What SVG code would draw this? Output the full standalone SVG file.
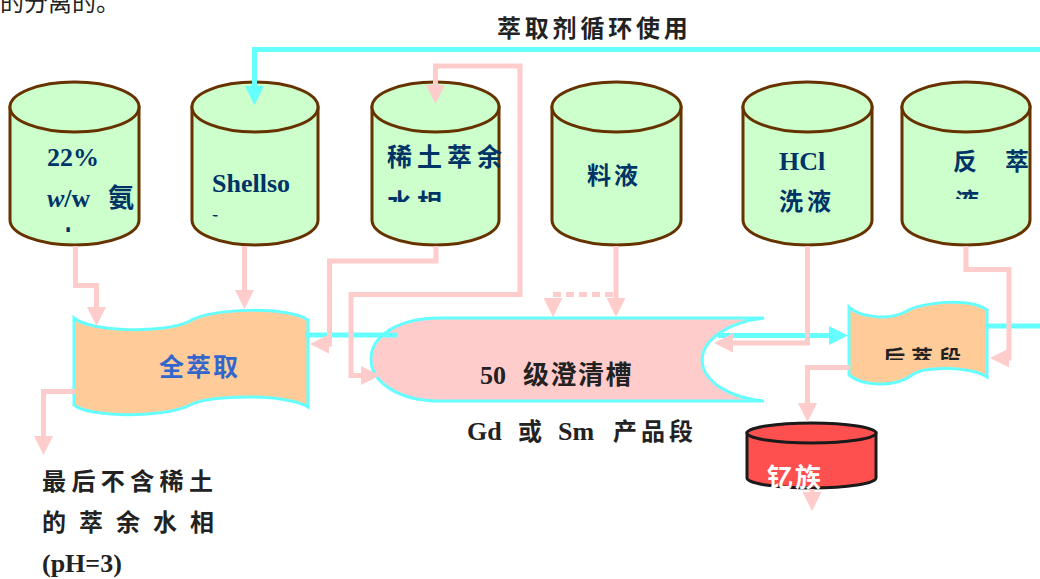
<svg xmlns="http://www.w3.org/2000/svg" width="1040" height="579" viewBox="0 0 1040 579">
<style>
.cyl{fill:#CCFFCC;stroke:#663300;stroke-width:3}
.red{fill:#FF5050;stroke:#1a1a1a;stroke-width:3}
.ct{font-family:"Noto Sans CJK SC",sans-serif;font-weight:bold;font-size:24px;fill:#003366}
.lt{font-family:"Liberation Serif",serif;font-weight:bold;font-size:26px;fill:#003366}
.bk{font-family:"Noto Sans CJK SC",sans-serif;font-weight:bold;font-size:24px;fill:#222}
.bl{font-family:"Liberation Serif",serif;font-weight:bold;font-size:26px;fill:#222}
.pk{fill:none;stroke:#FFCCCC;stroke-width:5}
.cy{fill:none;stroke:#66FFFF;stroke-width:5}
.shape{stroke:#66FFFF;stroke-width:3}
</style>
<defs>
<marker id="ap" markerUnits="userSpaceOnUse" markerWidth="20" markerHeight="20" refX="1" refY="10" orient="auto"><path d="M0,0.5 L19,10 L0,19.5 Z" fill="#FFCCCC"/></marker>
<marker id="aps" markerUnits="userSpaceOnUse" markerWidth="20" markerHeight="20" refX="1" refY="10" orient="auto-start-reverse"><path d="M0,0.5 L19,10 L0,19.5 Z" fill="#FFCCCC"/></marker>
<marker id="ac" markerUnits="userSpaceOnUse" markerWidth="20" markerHeight="20" refX="1" refY="10" orient="auto"><path d="M0,0.5 L19,10 L0,19.5 Z" fill="#66FFFF"/></marker>
<clipPath id="k1"><rect x="10" y="130" width="129" height="102"/></clipPath>
<clipPath id="k2"><rect x="192" y="130" width="126" height="86.5"/></clipPath>
<clipPath id="k3"><rect x="372" y="130" width="140" height="72"/></clipPath>
<clipPath id="k6"><rect x="902" y="130" width="127" height="69"/></clipPath>
<clipPath id="kh"><rect x="850" y="330" width="137" height="30"/></clipPath>
</defs>

<text x="0" y="11" style="font-family:'Noto Sans CJK SC',sans-serif;font-size:24px;fill:#222">的分离的。</text>
<text x="497" y="37" class="bk" style="letter-spacing:3.8px">萃取剂循环使用</text>

<g id="tank-ammonia">
<path class="cyl" d="M10,107 V220 A64.5,25 0 0 0 139,220 V107 Z"/>
<ellipse class="cyl" cx="74.5" cy="107" rx="64.5" ry="25"/>
<g clip-path="url(#k1)">
<text x="47" y="166" class="lt">22%</text>
<text x="47" y="207" class="lt"><tspan font-style="italic">w</tspan>/w</text>
<text x="108" y="207" class="ct" style="font-size:26px">氨</text>
<text x="55" y="250" class="ct" style="font-size:26px">水</text>
</g>
</g>

<g id="tank-shellsol">
<path class="cyl" d="M192,107 V220 A63,25 0 0 0 318,220 V107 Z"/>
<ellipse class="cyl" cx="255" cy="107" rx="63" ry="25"/>
<g clip-path="url(#k2)">
<text x="212" y="192" class="lt">Shellso</text>
<text x="212" y="233" class="lt">l</text>
</g>
</g>

<g id="tank-raffinate">
<path class="cyl" d="M372,107 V220 A63.5,25 0 0 0 499,220 V107 Z"/>
<ellipse class="cyl" cx="435.5" cy="107" rx="63.5" ry="25"/>
<g clip-path="url(#k3)">
<text x="387" y="166" class="ct" style="font-size:25px;letter-spacing:5px">稀土萃余</text>
<text x="387" y="212" class="ct" style="font-size:25px;letter-spacing:5px">水相</text>
</g>
</g>

<g id="tank-feed">
<path class="cyl" d="M552,107 V220 A64.5,25 0 0 0 681,220 V107 Z"/>
<ellipse class="cyl" cx="616.5" cy="107" rx="64.5" ry="25"/>
<text x="587" y="184" class="ct" style="letter-spacing:3px">料液</text>
</g>

<g id="tank-hcl">
<path class="cyl" d="M743,107 V220 A64.5,25 0 0 0 872,220 V107 Z"/>
<ellipse class="cyl" cx="807.5" cy="107" rx="64.5" ry="25"/>
<text x="779" y="170" class="lt">HCl</text>
<text x="779" y="210" class="ct" style="letter-spacing:4px">洗液</text>
</g>

<g id="tank-strip">
<path class="cyl" d="M902,107 V220 A64,25 0 0 0 1030,220 V107 Z"/>
<ellipse class="cyl" cx="966" cy="107" rx="64" ry="25"/>
<g clip-path="url(#k6)">
<text y="170" class="ct"><tspan x="953">反</tspan><tspan x="1005">萃</tspan></text>
<text x="955" y="210" class="ct">液</text>
</g>
</g>

<g id="full-extraction">
<path class="shape" fill="#FFCC99" d="M74,318 C90,332 165,334 190,321 C210,308 290,306 308,320 V407 C290,394 210,394 190,405 C165,418 90,418 74,405 Z"/>
<text x="159" y="376" class="ct" style="fill:#3366CC;font-size:25px;letter-spacing:2px">全萃取</text>
</g>

<g id="settler-50">
<path class="shape" fill="#FFCCCC" d="M440,318 H764 C730,322 703,338 702,360 C703,382 730,398 764,401 H440 C398,401 371,382 371,359 C371,336 398,318 440,318 Z"/>
<text y="384" class="bl"><tspan x="480">50</tspan><tspan x="523" style="font-family:'Noto Sans CJK SC',sans-serif;letter-spacing:1.5px">级澄清槽</tspan></text>
</g>

<g id="back-extraction">
<path class="shape" fill="#FFCC99" d="M849,307 C860,318 890,320 905,312 C920,302 970,297 987,310 V377 C972,367 925,365 912,375 C895,388 862,386 849,375 Z"/>
<g clip-path="url(#kh)">
<text x="883" y="366" class="bk" style="font-size:22px;letter-spacing:6px">后萃段</text>
</g>
</g>

<g id="yttrium">
<path class="red" d="M747,433 V478 A64.5,10 0 0 0 876,478 V433 Z"/>
<ellipse class="red" cx="811.5" cy="433" rx="64.5" ry="10"/>
</g>

<g id="connectors">
<path class="cy" d="M1040,49.5 H254.5 V87" marker-end="url(#ac)"/>
<path class="cy" d="M305,335 H397"/>
<path class="cy" d="M718,335.5 H830" marker-end="url(#ac)"/>
<path class="cy" d="M985,326 H1040"/>
<path class="pk" d="M75.5,246 V285.5 H96.5 V308" marker-end="url(#ap)"/>
<path class="pk" d="M244.5,246 V291" marker-end="url(#ap)"/>
<path class="pk" d="M436,246 V261 H329.5 V344 H328" marker-end="url(#ap)"/>
<path class="pk" d="M435.5,86 V66 H520 V294.5 H351 V375.5 H362" marker-start="url(#aps)" marker-end="url(#ap)"/>
<path class="pk" d="M616,246 V299" marker-end="url(#ap)"/>
<path class="pk" d="M613,294.5 H553 V299" style="stroke-dasharray:8,5" marker-end="url(#ap)"/>
<path class="pk" d="M807.5,246 V343 H732" marker-end="url(#ap)"/>
<path class="pk" d="M966,246 V269.5 H1009 V358 H1008" marker-end="url(#ap)"/>
<path class="pk" d="M850,367.5 H807.5 V404" marker-end="url(#ap)"/>
<path class="pk" d="M75,391.5 H43.5 V437" marker-end="url(#ap)"/>
<path class="pk" d="M812,489 V493" marker-end="url(#ap)"/>
</g>

<text x="767" y="487" class="bk" style="fill:#fff;font-size:26px;letter-spacing:2px">钇族</text>
<text x="467" y="440" class="bl"><tspan>Gd</tspan><tspan x="518" style="font-family:'Noto Sans CJK SC',sans-serif;font-size:24px">或</tspan><tspan x="558">Sm</tspan><tspan x="613" style="font-family:'Noto Sans CJK SC',sans-serif;font-size:24px;letter-spacing:4px">产品段</tspan></text>
<text x="42" y="490" class="bk" style="letter-spacing:5.4px">最后不含稀土</text>
<text x="42" y="531" class="bk" style="letter-spacing:13px">的萃余水相</text>
<text x="42" y="572" class="bl">(pH=3)</text>
</svg>
